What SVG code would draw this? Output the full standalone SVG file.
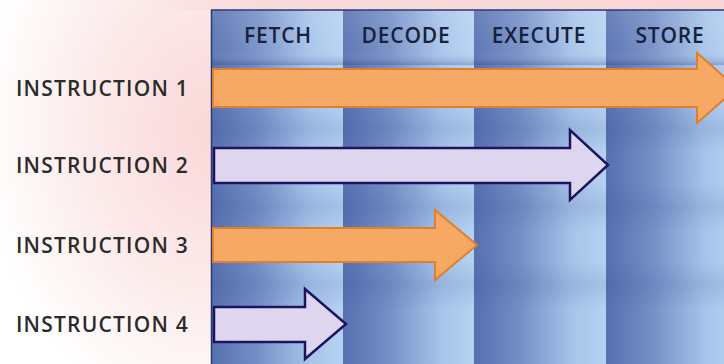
<svg xmlns="http://www.w3.org/2000/svg" width="724" height="364" viewBox="0 0 724 364">
<defs>
<radialGradient id="bg" cx="210" cy="130" r="230" gradientUnits="userSpaceOnUse" gradientTransform="translate(210 130) scale(1 1.3) translate(-210 -130)">
<stop offset="0" stop-color="#fbd8d9"/>
<stop offset="0.5" stop-color="#fce9e9"/>
<stop offset="1" stop-color="#ffffff"/>
</radialGradient>
<linearGradient id="topband" x1="0" y1="0" x2="1" y2="0">
<stop offset="0" stop-color="#fadadb" stop-opacity="0"/>
<stop offset="0.2" stop-color="#fadadb" stop-opacity="1"/>
<stop offset="1" stop-color="#f8d6d6" stop-opacity="1"/>
</linearGradient>
<linearGradient id="col" x1="0" y1="0" x2="1" y2="0">
<stop offset="0" stop-color="#5670b0"/>
<stop offset="0.35" stop-color="#748fc6"/>
<stop offset="0.75" stop-color="#a7c4ea"/>
<stop offset="1" stop-color="#b6d2f2"/>
</linearGradient>
<linearGradient id="hdr" x1="0" y1="0" x2="0" y2="1">
<stop offset="0" stop-color="#ffffff" stop-opacity="0.12"/>
<stop offset="0.75" stop-color="#ffffff" stop-opacity="0.05"/>
<stop offset="1" stop-color="#2a3f86" stop-opacity="0.3"/>
</linearGradient>
<linearGradient id="row" x1="0" y1="0" x2="0" y2="1">
<stop offset="0" stop-color="#2a3f86" stop-opacity="0"/>
<stop offset="0.5" stop-color="#2a3f86" stop-opacity="0.12"/>
<stop offset="1" stop-color="#2a3f86" stop-opacity="0"/>
</linearGradient>
</defs>
<style>
.lbl{font-family:"Open Sans","Liberation Sans",sans-serif;font-weight:600;font-size:21px;letter-spacing:1.2px;fill:#2b2b2b}
.hd{font-family:"Open Sans","Liberation Sans",sans-serif;font-weight:600;font-size:21px;letter-spacing:0.8px;fill:#16223f;text-anchor:middle}
.org{fill:#f5a965;stroke:#e07f2c;stroke-width:2}
.lav{fill:#ddd6ee;stroke:#1c145e;stroke-width:2.5}
</style>
<rect x="0" y="0" width="724" height="364" fill="url(#bg)"/>
<rect x="150" y="0" width="574" height="10" fill="url(#topband)"/>
<g id="panel">
<rect x="211" y="10" width="132" height="354" fill="url(#col)"/>
<rect x="343" y="10" width="131" height="354" fill="url(#col)"/>
<rect x="474" y="10" width="132" height="354" fill="url(#col)"/>
<rect x="606" y="10" width="132" height="354" fill="url(#col)"/>
<rect x="211" y="10" width="513" height="55" fill="url(#hdr)"/>
<rect x="211" y="105" width="513" height="48" fill="url(#row)"/>
<rect x="211" y="182" width="513" height="50" fill="url(#row)"/>
<rect x="211" y="260" width="513" height="50" fill="url(#row)"/>
<line x1="211" y1="10" x2="724" y2="10" stroke="#2b3a6e" stroke-width="1.5"/>
<line x1="211.5" y1="10" x2="211.5" y2="364" stroke="#2b3a6e" stroke-width="1.5"/>
</g>
<g id="headers">
<text class="hd" x="278" y="43">FETCH</text>
<text class="hd" x="406" y="43">DECODE</text>
<text class="hd" x="539" y="43">EXECUTE</text>
<text class="hd" x="670" y="43">STORE</text>
</g>
<g id="labels">
<text class="lbl" x="16" y="96">INSTRUCTION 1</text>
<text class="lbl" x="16" y="173">INSTRUCTION 2</text>
<text class="lbl" x="16" y="253">INSTRUCTION 3</text>
<text class="lbl" x="16" y="332">INSTRUCTION 4</text>
</g>
<g id="arrows">
<polygon id="arrow1" class="org" points="213,69 697,69 697,53 737,88 697,123 697,107 213,107"/>
<polygon id="arrow2" class="lav" points="214,148 570,148 570,130 608,165 570,200 570,183 214,183"/>
<polygon id="arrow3" class="org" points="213,228 435,228 435,210 477,245 435,280 435,262 213,262"/>
<polygon id="arrow4" class="lav" points="214,307 305,307 305,289 346,324 305,359 305,342 214,342"/>
</g>
</svg>
